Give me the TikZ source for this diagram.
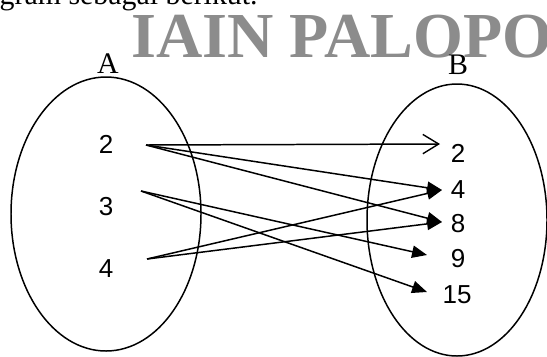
\documentclass[tikz,border=0pt]{standalone}
\usepackage{fontspec}
\setmainfont{Liberation Serif}
\newfontfamily\digitfont{Liberation Sans}
\usetikzlibrary{arrows.meta}
\begin{document}
\begin{tikzpicture}[x=0.02cm,y=-0.02cm,
  setshape/.style={draw,line width=0.85pt},
  setname/.style={font=\fontsize{17}{20}\selectfont,anchor=base,inner sep=0pt},
  elem/.style={font=\digitfont\fontsize{14.8}{17}\selectfont,anchor=base,inner sep=0pt},
  maparrow/.style={line width=0.85pt,-{Triangle[length=8.5pt,width=7pt]}},
  openarrow/.style={line width=0.85pt,-{Straight Barb[length=9pt,width=11pt,line width=0.8pt]}}]
\useasboundingbox (0,0) rectangle (547,356);
\begin{scope}
\clip (0,0) rectangle (547,356);
% running text and watermark
\node[anchor=base east,inner sep=0pt,font=\fontsize{17}{20}\selectfont] (txt) at (258,4) {agram sebagai berikut.};
\node[anchor=base west,inner sep=0pt,text=black!45,font=\bfseries\fontsize{36.5}{40}\selectfont] (wm) at (131,57) {IAIN PALOPO};
% the two sets
\draw[setshape] (106,214) ellipse [x radius=95,y radius=137];
\draw[setshape] (457,220) ellipse [x radius=90,y radius=136];
\end{scope}
\node[setname] (A) at (108,73) {A};
\node[setname] (B) at (458,74) {B};
% elements of A
\node[elem] (a2) at (106,153) {2};
\node[elem] (a3) at (106,215) {3};
\node[elem] (a4) at (106,277) {4};
% elements of B
\node[elem] (b2) at (458,162) {2};
\node[elem] (b4) at (458,198) {4};
\node[elem] (b8) at (458,232) {8};
\node[elem] (b9) at (458,267) {9};
\node[elem] (b15) at (457,303) {15};
% arrow end points
\coordinate (a2out) at (146,145);
\coordinate (a3out) at (141,191);
\coordinate (a4out) at (147,259);
\coordinate (b2in) at (440,144);
\coordinate (b4in) at (442,190);
\coordinate (b8in) at (442,222);
\coordinate (b9in) at (427,255);
\coordinate (b15in) at (427,292);
% the relation
\draw[openarrow] (a2out) -- (b2in);
\draw[maparrow] (a2out) -- (b4in);
\draw[maparrow] (a2out) -- (b8in);
\draw[maparrow] (a3out) -- (b9in);
\draw[maparrow] (a3out) -- (b15in);
\draw[maparrow] (a4out) -- (b4in);
\draw[maparrow] (a4out) -- (b8in);
\end{tikzpicture}
\end{document}
